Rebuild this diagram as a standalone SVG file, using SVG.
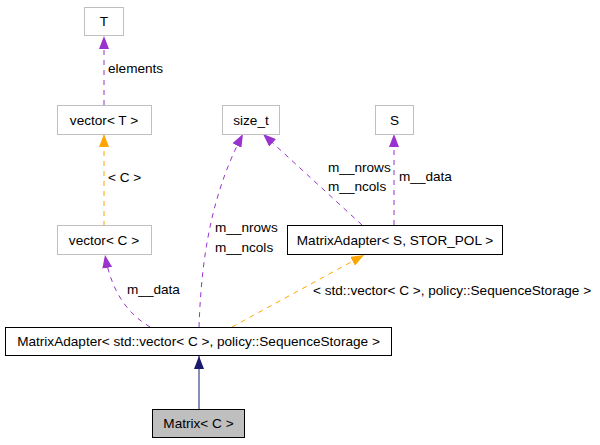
<svg xmlns="http://www.w3.org/2000/svg" width="600" height="445" viewBox="0 0 600 445">
<style>
text{font-family:"Liberation Sans",Arial,sans-serif;font-size:13.6px;fill:#000}
.node text{text-anchor:middle}
.g{fill:#fff;stroke:#bfbfbf;stroke-width:1}
.b{fill:#fff;stroke:#000;stroke-width:1}
.m{fill:#bfbfbf;stroke:#000;stroke-width:1}
.p{fill:none;stroke:#9a32cd;stroke-width:1;stroke-dasharray:5,5}
.o{fill:none;stroke:#ffa500;stroke-width:1;stroke-dasharray:5,5}
.n{fill:none;stroke:#191970;stroke-width:1}
</style>
<defs>
<marker id="ap" viewBox="0 0 13 10" refX="13" refY="5" markerWidth="13" markerHeight="10" markerUnits="userSpaceOnUse" orient="auto"><path d="M0,0 L13,5 L0,10 z" fill="#9a32cd"/></marker>
<marker id="ao" viewBox="0 0 13 10" refX="13" refY="5" markerWidth="13" markerHeight="10" markerUnits="userSpaceOnUse" orient="auto"><path d="M0,0 L13,5 L0,10 z" fill="#ffa500"/></marker>
<marker id="an" viewBox="0 0 13 10" refX="13" refY="5" markerWidth="13" markerHeight="10" markerUnits="userSpaceOnUse" orient="auto"><path d="M0,0 L13,5 L0,10 z" fill="#191970"/></marker>
</defs>
<rect width="600" height="445" fill="#fff"/>
<g id="edges">
<path class="p" d="M104,105 L104,36" marker-end="url(#ap)"/>
<text x="108" y="73">elements</text>
<path class="o" d="M104,226 L104,134" marker-end="url(#ao)"/>
<text x="108" y="182">&lt; C &gt;</text>
<path class="p" d="M150,327 C130,315 112,295 105,255" marker-end="url(#ap)"/>
<text x="127" y="294">m__data</text>
<path class="p" d="M199,327 C201,270 208,200 243,134" marker-end="url(#ap)"/>
<text x="215" y="232">m__nrows</text>
<text x="215" y="252">m__ncols</text>
<path class="p" d="M362,225 L263,134" marker-end="url(#ap)"/>
<text x="328" y="172">m__nrows</text>
<text x="328" y="191">m__ncols</text>
<path class="p" d="M394,225 L394,134" marker-end="url(#ap)"/>
<text x="399" y="181">m__data</text>
<path class="o" d="M232,327 L364,255" marker-end="url(#ao)"/>
<text x="313" y="295">&lt; std::vector&lt; C &gt;, policy::SequenceStorage &gt;</text>
<path class="n" d="M199,409 L199,356" marker-end="url(#an)"/>
</g>
<g id="node-T" class="node"><rect class="g" x="84.5" y="7.5" width="39" height="28"/><text x="104" y="26">T</text></g>
<g id="node-vectorT" class="node"><rect class="g" x="57.5" y="105.5" width="94" height="29"/><text x="104" y="124.5">vector&lt; T &gt;</text></g>
<g id="node-vectorC" class="node"><rect class="g" x="57.5" y="225.5" width="94" height="29"/><text x="104" y="244.5">vector&lt; C &gt;</text></g>
<g id="node-size_t" class="node"><rect class="g" x="222.5" y="105.5" width="57" height="29"/><text x="251" y="124.5">size_t</text></g>
<g id="node-S" class="node"><rect class="g" x="375.5" y="105.5" width="38" height="29"/><text x="394.5" y="124.5">S</text></g>
<g id="node-MatrixAdapterS" class="node"><rect class="b" x="287.5" y="225.5" width="215" height="29"/><text x="395" y="244.5">MatrixAdapter&lt; S, STOR_POL &gt;</text></g>
<g id="node-MatrixAdapterVec" class="node"><rect class="b" x="5.5" y="327.5" width="386" height="28"/><text x="198.5" y="346">MatrixAdapter&lt; std::vector&lt; C &gt;, policy::SequenceStorage &gt;</text></g>
<g id="node-Matrix" class="node"><rect class="m" x="152.5" y="409.5" width="92" height="28"/><text x="198.5" y="428">Matrix&lt; C &gt;</text></g>
</svg>
